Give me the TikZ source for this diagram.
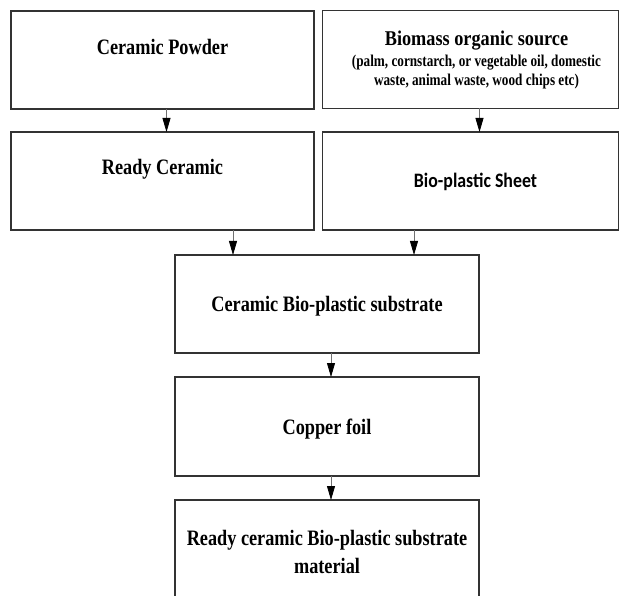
\documentclass[tikz,border=0pt]{standalone}
\usepackage{fontspec}
\setmainfont{Liberation Serif}
\newfontfamily\ttlfont[FakeStretch=0.83]{Liberation Serif}
\newfontfamily\bmfont[FakeStretch=0.87]{Liberation Serif}
\newfontfamily\subfont[FakeStretch=0.80]{Liberation Serif}
\newfontfamily\sheetfont[FakeStretch=0.87]{Carlito}
\usetikzlibrary{arrows.meta}
\definecolor{boxline}{HTML}{333333}
\definecolor{arrline}{HTML}{707070}
\tikzset{
  box/.style={draw=boxline, line width=1.1pt, minimum width=303pt, minimum height=98pt, inner sep=0pt, outer sep=0pt},
  ttl/.style={font=\ttlfont\bfseries\fontsize{22pt}{28pt}\selectfont, align=center, inner sep=0pt, anchor=base},
  flow/.style={draw=arrline, line width=0.8pt, -{Triangle[length=14pt, width=8pt, fill=black, color=black]}}
}
\begin{document}
\begin{tikzpicture}[x=1pt, y=-1pt]
\useasboundingbox (0,0) rectangle (619,596);
\clip (0,0) rectangle (619,596);
% boxes
\node[box] (cp) at (162.5,60) {};
\node[box, minimum width=296pt] (bm) at (470.5,59.5) {};
\node[box] (rc) at (162.5,181) {};
\node[box, minimum width=296pt] (bs) at (470.5,181) {};
\node[box, minimum width=304pt] (cb) at (327,304) {};
\node[box, minimum width=304pt, minimum height=99pt] (cf) at (327,426.5) {};
\node[box, minimum width=304pt] (rm) at (327,549) {};
% texts
\node[ttl] (cpt) at (162.5,54.5) {Ceramic Powder};
\node[ttl] (rct) at (162.5,175) {Ready Ceramic};
\node[anchor=base, inner sep=0pt, font=\bmfont\bfseries\fontsize{21pt}{24pt}\selectfont] (bmt) at (476.5,45.5) {Biomass organic source};
\node[anchor=base, inner sep=0pt, align=center, font=\subfont\bfseries\fontsize{16.5pt}{19pt}\selectfont] (bms) at (476.5,85.5) {(palm, cornstarch, or vegetable oil, domestic\\waste, animal waste, wood chips etc)};
\node[anchor=base, inner sep=0pt, font=\sheetfont\bfseries\fontsize{20.5pt}{24pt}\selectfont] (bst) at (475.5,188) {Bio-plastic Sheet};
\node[ttl] (cbt) at (327,312) {Ceramic Bio-plastic substrate};
\node[ttl] (cft) at (327,434.5) {Copper foil};
\node[ttl] (rmt) at (327,573) {Ready ceramic Bio-plastic substrate\\material};
% arrows
\draw[flow] (cp.south -| 166.5,0) -- (rc.north -| 166.5,0);
\draw[flow] (bm.south -| 479.5,0) -- (bs.north -| 479.5,0);
\draw[flow] (rc.south -| 233,0) -- (cb.north -| 233,0);
\draw[flow] (bs.south -| 414,0) -- (cb.north -| 414,0);
\draw[flow] (cb.south) ++(4,0) coordinate (a1) -- (a1 |- cf.north);
\draw[flow] (cf.south) ++(4,0) coordinate (a2) -- (a2 |- rm.north);
\end{tikzpicture}
\end{document}
